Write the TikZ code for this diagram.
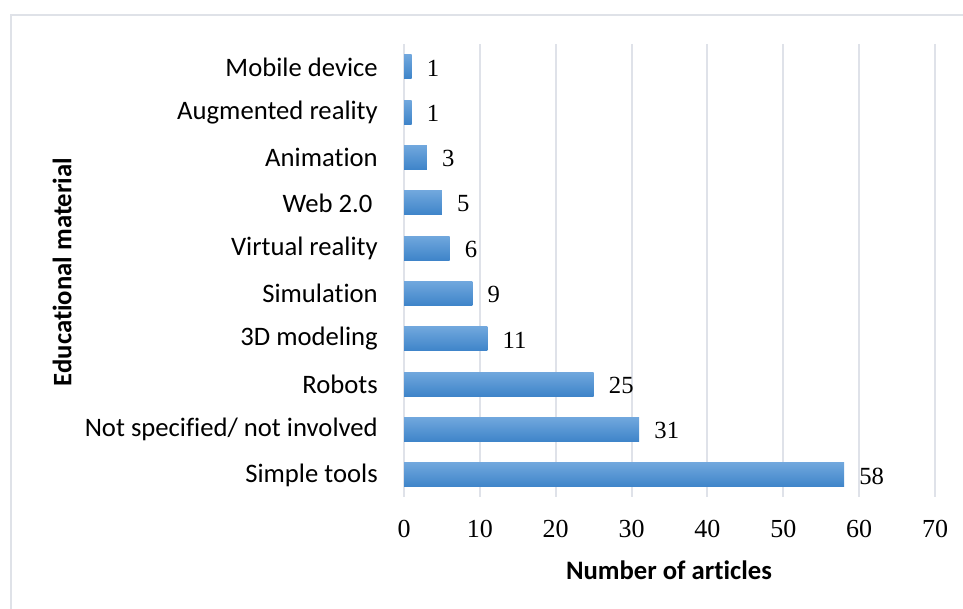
\documentclass[tikz,border=0pt]{standalone}
\usepackage{fontspec}
\setmainfont{Liberation Serif}
\newfontfamily\calibri[Ligatures=NoCommon]{Carlito}
\definecolor{framegray}{HTML}{DFE2E8}
\definecolor{gridgray}{HTML}{DFE2E9}
\definecolor{bartop}{HTML}{70A7DD}
\definecolor{barbot}{HTML}{3E84C9}
\tikzset{
  catlab/.style={anchor=east, inner sep=0pt, font=\calibri\fontsize{20}{22}\selectfont},
  vallab/.style={anchor=west, inner sep=0pt, font=\fontsize{18.5}{20}\selectfont},
  ticklab/.style={inner sep=0pt, font=\fontsize{19.5}{21}\selectfont},
  axtitle/.style={inner sep=0pt, font=\calibri\bfseries\fontsize{20}{22}\selectfont},
  barfill/.style={top color=bartop, bottom color=barbot}
}
\begin{document}
\begin{tikzpicture}[x=0.75pt, y=-0.75pt, line cap=butt]
  % Picture size in pixels of the reference
  \useasboundingbox (0,0) rectangle (963,609);
  \def\xo{404} \def\unit{7.586}
  \def\gtop{44} \def\gbot{497}

  % Outer chart frame (only top and left edges are in view)
  \draw[framegray, line width=1.5pt] (11,609) -- (11,15) -- (963,15);

  % Vertical gridlines with tick labels
  \foreach \t in {0,10,...,70} {
    \draw[gridgray, line width=1.5pt] (\xo+\t*\unit,\gtop) -- (\xo+\t*\unit,\gbot);
    \node[ticklab] (tick\t) at (\xo+\t*\unit,529) {\t};
  }

  % Bars, category labels and values (top to bottom)
  \foreach \v/\lab [count=\i] in {1/Mobile device, 1/Augmented reality, 3/Animation,
      5/Web 2.0\kern4pt, 6/Virtual reality, 9/Simulation, 11/3D modeling, 25/Robots,
      31/Not specified\slash{} not involved, 58/Simple tools} {
    \pgfmathsetmacro\yc{67+(\i-1)*45.33}
    \shade[barfill] (\xo,\yc-12) rectangle (\xo+\v*\unit,\yc+12);
    \node[catlab] (cat\i) at (378,\yc) {\lab};
    \node[vallab] (val\i) at (\xo+\v*\unit+15,\yc+1) {\v};
  }

  % Axis titles
  \node[axtitle] (xtitle) at (669,570) {Number of articles};
  \node[axtitle, rotate=90] (ytitle) at (62,272) {Educational material};
\end{tikzpicture}
\end{document}
